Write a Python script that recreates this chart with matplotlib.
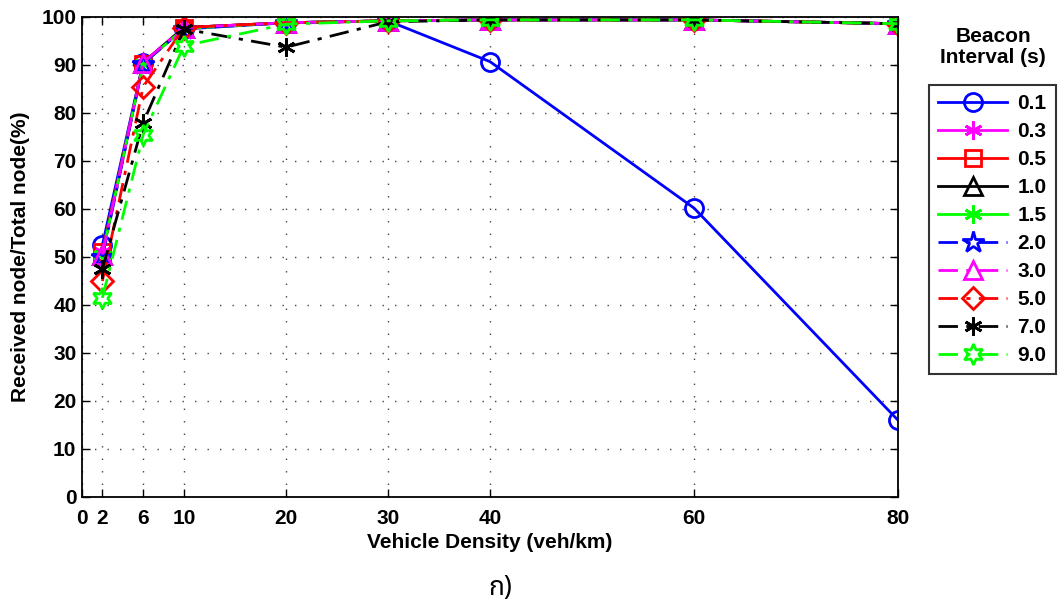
import matplotlib
matplotlib.use("Agg")
import matplotlib.pyplot as plt

plt.rcParams['font.family'] = ['Liberation Sans', 'DejaVu Sans']
plt.rcParams['font.weight'] = 'bold'

density = [2, 6, 10, 20, 30, 40, 60, 80]
xticks = [0, 2, 6, 10, 20, 30, 40, 60, 80]

intervals = ['0.1', '0.3', '0.5', '1.0', '1.5', '2.0', '3.0', '5.0', '7.0', '9.0']

r_01 = [52.5, 90.5, 97.5, 98.8, 99.2, 90.7, 60.2, 16.0]
r_03 = [51.0, 90.5, 97.8, 98.8, 99.2, 99.4, 99.4, 98.6]
r_05 = [51.0, 90.3, 97.8, 98.8, 99.2, 99.4, 99.4, 98.6]
r_10 = [50.5, 90.5, 97.8, 98.8, 99.2, 99.4, 99.4, 98.6]
r_15 = [50.5, 90.3, 97.6, 98.8, 99.2, 99.4, 99.4, 98.6]
r_20 = [50.0, 90.3, 97.6, 98.8, 99.2, 99.4, 99.4, 98.6]
r_30 = [50.5, 90.5, 97.8, 98.8, 99.2, 99.4, 99.4, 98.6]
r_50 = [45.0, 85.5, 97.8, 98.8, 99.2, 99.4, 99.4, 98.6]
r_70 = [47.5, 78.0, 97.5, 93.7, 99.0, 99.4, 99.4, 98.6]
r_90 = [41.5, 75.5, 94.0, 98.5, 99.2, 99.4, 99.4, 98.6]

series = [r_01, r_03, r_05, r_10, r_15, r_20, r_30, r_50, r_70, r_90]
colors = ['#0000ff', '#ff00ff', '#ff0000', '#000000', '#00ff00',
          '#0000ff', '#ff00ff', '#ff0000', '#000000', '#00ff00']
markers = ['o', (6, 2, 0), 's', '^', (6, 2, 0), '*', '^', 'D', (6, 2, 0), (6, 1, 0)]
msizes = [13, 13, 11, 13, 13, 16, 13, 11, 13, 15]
dashdot = (0, (7, 3, 1.5, 3))
styles = ['-'] * 5 + [dashdot] * 5

fig = plt.figure(figsize=(10.61, 6.07), dpi=100)
ax = fig.add_axes([82 / 1061, 1 - 497 / 607, (898 - 82) / 1061, (497 - 17) / 607])

for vals, c, m, ms, ls, lab in zip(series, colors, markers, msizes, styles, intervals):
    ax.plot(density, vals, color=c, marker=m, markersize=ms, linestyle=ls, linewidth=2,
            markerfacecolor='none', markeredgecolor=c, markeredgewidth=2, label=lab)

ax.set_xlim(0, 80)
ax.set_ylim(0, 100)
ax.set_xticks(xticks)
ax.set_yticks(range(0, 101, 10))
ax.tick_params(direction='in', labelsize=15, length=6, width=1, top=True, right=True, pad=4)
ax.tick_params(axis='x', pad=9)
ax.grid(True, linestyle=(0, (1, 8)), color='#444444', linewidth=1)
for s in ax.spines.values():
    s.set_linewidth(1.3)
ax.set_xlabel('Vehicle Density (veh/km)', fontsize=15, fontweight='bold', labelpad=3)
ax.set_ylabel('Received node/Total node(%)', fontsize=15, fontweight='bold', labelpad=8)

leg = ax.legend(loc='upper left', bbox_to_anchor=(929 / 1061, 1 - 85 / 607), bbox_transform=fig.transFigure,
                fontsize=15, frameon=True, fancybox=False, edgecolor='black', handlelength=3.3,
                borderpad=0.45, labelspacing=0.43, handletextpad=0.5, borderaxespad=0)
leg.get_frame().set_linewidth(1.5)
fig.text(993 / 1061, 1 - 47 / 607, 'Beacon\nInterval (s)', ha='center', va='center',
         fontsize=15, fontweight='bold', linespacing=1.15)

fig.text(500 / 1061, 1 - 588 / 607, 'ก)', ha='center', va='center', fontsize=19, fontweight='normal',
         family=['Noto Sans Thai', 'Loma', 'Garuda', 'Noto Sans', 'DejaVu Sans'])

fig.savefig('out.png', dpi=100)
